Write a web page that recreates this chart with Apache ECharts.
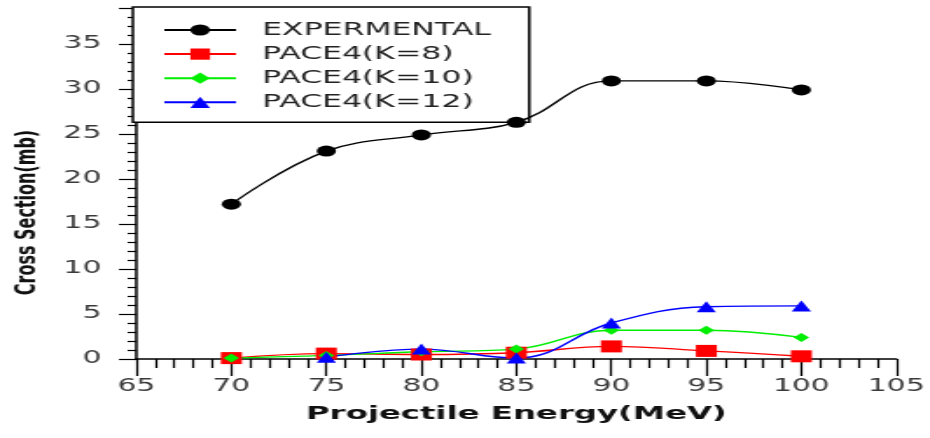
<!DOCTYPE html>
<html>
<head>
<meta charset="utf-8">
<script src="https://cdn.jsdelivr.net/npm/echarts@6/dist/echarts.min.js"></script>
<style>
  html, body { margin: 0; padding: 0; background: #fff; overflow: hidden; }
  /* the plot is laid out narrow and stretched sideways, like the printed figure */
  #chart { width: 532px; height: 438px; transform: scaleX(1.748); transform-origin: 0 0; }
</style>
</head>
<body>
<div id="chart"></div>
<script>
const energies = [70, 75, 80, 85, 90, 95, 100];
const experimental = [17.2, 23.1, 24.9, 26.3, 30.9, 30.9, 29.9];
const pace4K8 = [0.1, 0.6, 0.5, 0.7, 1.4, 0.9, 0.3];
const pace4K10 = [0.1, 0.4, 0.8, 1.1, 3.2, 3.2, 2.4];
// no K=12 value at 70 MeV
const pace4K12 = [null, 0.2, 1.1, 0.1, 4.0, 5.8, 5.9];

const seriesNames = ['EXPERMENTAL', 'PACE4(K=8)', 'PACE4(K=10)', 'PACE4(K=12)'];
const xTitle = 'Projectile Energy(MeV)';
const yTitle = 'Cross Section(mb)';

const pairs = vals => energies.map((e, i) => [e, vals[i] === null ? '-' : vals[i]]);

function lineSeries(name, vals, color, symbol, size, width) {
  return {
    name: name,
    type: 'line',
    data: pairs(vals),
    smooth: 0.4,
    symbol: symbol,
    symbolSize: size,
    lineStyle: { color: color, width: width },
    itemStyle: { color: color, borderWidth: 0 },
    z: 3
  };
}

const chart = echarts.init(document.getElementById('chart'), null, { renderer: 'canvas' });
chart.setOption({
  backgroundColor: '#ffffff',
  animation: false,
  grid: { left: 76, right: 19, top: 8, bottom: 79, containLabel: false },
  legend: {
    orient: 'vertical',
    left: 76,
    top: 7,
    z: 1,
    padding: [14, 22, 11, 17],
    itemWidth: 41,
    itemHeight: 14,
    itemGap: 6.1,
    backgroundColor: '#ffffff',
    borderColor: '#000000',
    borderWidth: 1.5,
    borderRadius: 0,
    textStyle: {
      fontFamily: 'DejaVu Sans',
      fontSize: 18,
      color: '#222222',
      lineHeight: 16,
      padding: [0, 0, 0, 10]
    },
    data: seriesNames
  },
  xAxis: {
    type: 'value',
    min: 65,
    max: 105,
    interval: 5,
    name: xTitle,
    nameLocation: 'middle',
    nameGap: 46,
    nameTextStyle: { fontFamily: 'DejaVu Sans', fontWeight: 'bold', fontSize: 18.5, color: '#111111' },
    axisLine: { show: true, onZero: false, lineStyle: { color: '#000', width: 1.5 } },
    axisTick: { show: true, inside: false, length: 17, lineStyle: { color: '#000', width: 1.2 } },
    minorTick: { show: true, splitNumber: 5, length: 9, lineStyle: { color: '#000', width: 1.2 } },
    axisLabel: { margin: 19, fontFamily: 'DejaVu Sans', fontSize: 17, color: '#3a3a3a' },
    splitLine: { show: false }
  },
  yAxis: {
    type: 'value',
    min: 0,
    max: 39,
    interval: 5,
    name: yTitle,
    nameLocation: 'middle',
    nameGap: 54,
    nameRotate: 90,
    nameTextStyle: {
      fontFamily: 'DejaVu Sans', fontWeight: 'bold', fontSize: 16, color: '#111111',
      padding: [0, 58, 0, 0]
    },
    axisLine: { show: true, onZero: false, lineStyle: { color: '#000', width: 1.5 } },
    axisTick: { show: true, inside: false, length: 10, lineStyle: { color: '#000', width: 1.2 } },
    minorTick: { show: true, splitNumber: 5, length: 5, lineStyle: { color: '#000', width: 1.2 } },
    axisLabel: {
      margin: 20,
      fontFamily: 'DejaVu Sans',
      fontSize: 17,
      color: '#3a3a3a',
      formatter: v => (v % 5 === 0 ? String(v) : '')
    },
    splitLine: { show: false }
  },
  series: [
    lineSeries(seriesNames[0], experimental, '#000000', 'circle', 11, 1.4),
    lineSeries(seriesNames[1], pace4K8, '#ff0000', 'rect', 12, 1.4),
    lineSeries(seriesNames[2], pace4K10, '#00ee00', 'diamond', 9, 1.4),
    lineSeries(seriesNames[3], pace4K12, '#0000ff', 'triangle', 11, 1.4)
  ]
});
</script>
</body>
</html>
